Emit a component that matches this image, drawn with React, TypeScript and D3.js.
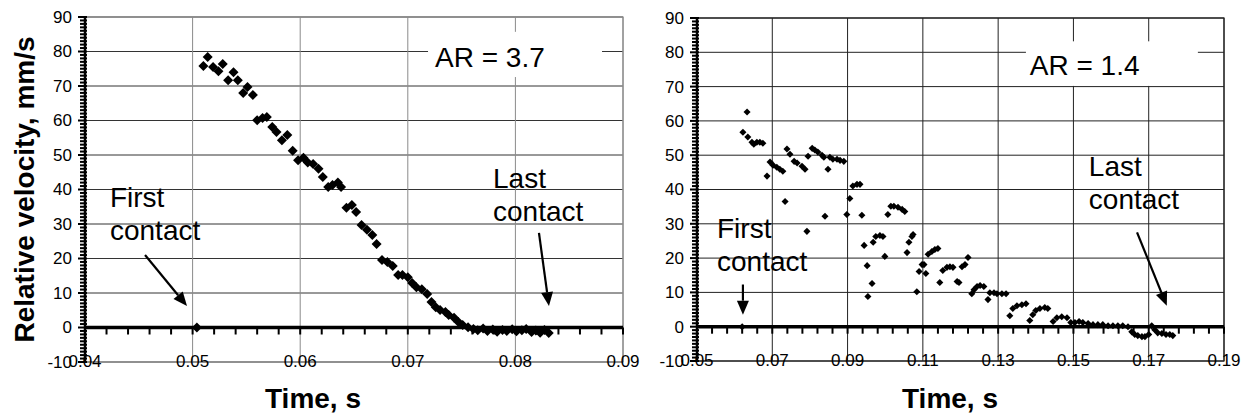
import React from "react";
import * as d3 from "d3";

// ---------- DATA ----------
const LEFT_TIME = [
  0.0504, 0.051, 0.0514, 0.0519, 0.0524, 0.0528, 0.0533, 0.0538, 0.0542, 0.0547,
  0.0551, 0.0556, 0.056, 0.0565, 0.0569, 0.0574, 0.0578, 0.0583, 0.0588, 0.0593,
  0.0598, 0.0603, 0.0607, 0.0612, 0.0617, 0.0621, 0.0626, 0.063, 0.0635, 0.0638,
  0.0643, 0.0648, 0.0652, 0.0657, 0.0662, 0.0667, 0.0671, 0.0676, 0.0681, 0.0686,
  0.0691, 0.0695, 0.07, 0.0704, 0.0708, 0.0713, 0.0718, 0.0722, 0.0726, 0.073,
  0.0735, 0.0738, 0.0743, 0.0747, 0.0751, 0.0756, 0.0761, 0.0765, 0.077, 0.0774,
  0.0779, 0.0783, 0.0788, 0.0792, 0.0797, 0.0801, 0.0806, 0.081, 0.0815, 0.0819,
  0.0823, 0.0827, 0.0831,
];
const LEFT_VEL = [
  0, 75.8, 78.4, 75.5, 74.3, 76.4, 71.7, 74.0, 71.7, 68.0,
  69.7, 67.4, 60.1, 60.7, 61.0, 58.1, 56.7, 54.3, 55.8, 51.2,
  48.5, 49.2, 47.8, 47.4, 46.0, 43.6, 40.7, 41.3, 42.0, 40.7,
  34.7, 35.5, 33.5, 29.7, 28.3, 26.8, 24.2, 19.6, 19.0, 17.8,
  15.2, 15.2, 14.6, 12.9, 11.7, 11.1, 9.7, 7.4, 5.9, 5.1,
  4.5, 3.6, 2.8, 1.6, 0.7, 0.1, -0.4, -0.8, -0.3, -1.0,
  -0.6, -1.2, -0.7, -1.0, -0.5, -1.1, -0.8, -0.4, -1.3, -0.9,
  -1.5, -0.7, -1.6,
];

const RIGHT_TIME = [
  0.062, 0.0622, 0.0633, 0.0635, 0.0646, 0.0651, 0.0659, 0.0667, 0.0675, 0.0686,
  0.0694, 0.0702, 0.0712, 0.072, 0.0728, 0.0734, 0.0739, 0.0747, 0.0758, 0.0766,
  0.0779, 0.0787, 0.0792, 0.0795, 0.0806, 0.0813, 0.0821, 0.0832, 0.0837, 0.084,
  0.0848, 0.0853, 0.0861, 0.0872, 0.088, 0.089, 0.0898, 0.0906, 0.0914, 0.0925,
  0.0933, 0.0938, 0.0944, 0.0952, 0.0954, 0.0965, 0.0968, 0.0975, 0.0986, 0.0994,
  0.0999, 0.1007, 0.1015, 0.1023, 0.1034, 0.1045, 0.1052, 0.1058, 0.1063, 0.1071,
  0.1074, 0.1084, 0.109, 0.1098, 0.1103, 0.1108, 0.1114, 0.1124, 0.1132, 0.114,
  0.1145, 0.1153, 0.1164, 0.1172, 0.118, 0.1191, 0.1196, 0.1204, 0.1212, 0.122,
  0.123, 0.1236, 0.1244, 0.1252, 0.1262, 0.1273, 0.1278, 0.1289, 0.1297, 0.131,
  0.1321, 0.1331, 0.1339, 0.135, 0.1363, 0.1374, 0.1384, 0.1392, 0.14, 0.1411,
  0.1424, 0.1432, 0.1446, 0.1456, 0.1469, 0.1483, 0.1493, 0.1504, 0.1515, 0.1525,
  0.1539, 0.1552, 0.1565, 0.1578, 0.1592, 0.1605, 0.1618, 0.1631, 0.1645, 0.1655,
  0.1663, 0.1671, 0.1682, 0.169, 0.17, 0.1708, 0.1716, 0.1724, 0.1735, 0.1746,
  0.1756, 0.1764,
];
const RIGHT_VEL = [
  0, 56.7, 62.6, 55.3, 53.8, 53.2, 53.8, 53.8, 53.5, 43.9,
  48.0, 47.1, 46.5, 45.9, 45.3, 36.5, 51.8, 50.3, 48.2, 47.7,
  46.8, 45.9, 27.8, 49.7, 52.0, 51.5, 50.9, 50.0, 49.4, 32.2,
  45.9, 49.4, 48.8, 48.8, 48.5, 48.2, 32.7, 37.4, 41.0, 41.5,
  41.5, 32.5, 23.7, 17.8, 8.8, 12.6, 24.6, 26.3, 26.6, 26.3,
  20.5, 32.7, 35.1, 35.1, 34.8, 34.2, 33.6, 21.6, 24.6, 26.3,
  26.9, 10.2, 16.1, 18.1, 18.1, 15.5, 21.1, 21.9, 22.5, 22.8,
  12.9, 16.4, 17.3, 17.5, 17.3, 13.2, 12.9, 17.5, 18.1, 20.2,
  9.6, 10.8, 11.7, 12.0, 11.7, 7.9, 9.9, 9.9, 9.6, 9.6,
  9.6, 3.2, 5.3, 6.1, 6.4, 6.7, 1.8, 3.5, 4.7, 5.3,
  5.6, 5.3, 1.5, 2.6, 2.9, 2.6, 1.2, 1.2, 1.5, 1.2,
  0.9, 0.6, 0.6, 0.6, 0.3, 0.3, 0.3, 0.3, 0.0, -1.5,
  -2.3, -2.6, -2.9, -2.9, -2.3, 0.3, -0.9, -1.8, -2.0, -2.3,
  -2.3, -2.6,
];

const Y_TICKS = [-10, 0, 10, 20, 30, 40, 50, 60, 70, 80, 90];
const LEFT_X_TICKS = [0.04, 0.05, 0.06, 0.07, 0.08, 0.09];
const RIGHT_X_TICKS = [0.05, 0.07, 0.09, 0.11, 0.13, 0.15, 0.17, 0.19];

const Y_TITLE = "Relative velocity, mm/s";
const X_TITLE = "Time, s";
const LEFT_AR = "AR = 3.7";
const RIGHT_AR = "AR = 1.4";

// annotations in data units: [x, y]
const LEFT_FIRST_TEXT: [number, number] = [0.04232, 34.9];
const LEFT_FIRST_ARROW = [[0.04558, 21.0], [0.04948, 6.2]];
const LEFT_LAST_TEXT: [number, number] = [0.07792, 40.4];
const LEFT_LAST_ARROW = [[0.08219, 27.4], [0.08312, 6.2]];
const LEFT_AR_POS: [number, number] = [0.07253, 75.5];
const LEFT_AR_BOX = [[0.07188, 85.7], [0.08805, 72.6]];

const RIGHT_FIRST_TEXT: [number, number] = [0.05531, 26.0];
const RIGHT_FIRST_ARROW = [[0.0622, 12.3], [0.0622, 3.5]];
const RIGHT_LAST_TEXT: [number, number] = [0.1541, 43.9];
const RIGHT_LAST_ARROW = [[0.1669, 27.5], [0.1748, 6.1]];
const RIGHT_AR_POS: [number, number] = [0.1384, 73.4];
const RIGHT_AR_BOX = [[0.13738, 83.2], [0.18306, 70.2]];

const FONT = "'Liberation Sans', Arial, Helvetica, sans-serif";

type PanelProps = {
  time: number[];
  vel: number[];
  xTicks: number[];
  minorX: number;
  left: number;
  right: number;
  top: number;
  bottom: number;
  markerArea: number;
  vGridColor: string;
  hGridColor: string;
  borderColor: string;
  showYTitle: boolean;
  titleX: number;
  firstText: [number, number];
  firstArrow: number[][];
  lastText: [number, number];
  lastArrow: number[][];
  arPos: [number, number];
  arBox: number[][];
  arText: string;
};

function Arrow({ x1, y1, x2, y2 }: { x1: number; y1: number; x2: number; y2: number }) {
  const ang = Math.atan2(y2 - y1, x2 - x1);
  const len = 14;
  const half = 6;
  const bx = x2 - len * Math.cos(ang);
  const by = y2 - len * Math.sin(ang);
  const px = -Math.sin(ang) * half;
  const py = Math.cos(ang) * half;
  return (
    <g>
      <line x1={x1} y1={y1} x2={bx} y2={by} stroke="#000" strokeWidth={2.2} />
      <polygon points={`${x2},${y2} ${bx + px},${by + py} ${bx - px},${by - py}`} fill="#000" />
    </g>
  );
}

function Panel(p: PanelProps) {
  const xDom = [p.xTicks[0], p.xTicks[p.xTicks.length - 1]];
  const x = d3.scaleLinear().domain(xDom).range([p.left, p.right]);
  const y = d3.scaleLinear().domain([-10, 90]).range([p.bottom, p.top]);
  const y0 = y(0);
  const minorY = d3.range(-10, 90.001, 1);
  const nMinorX = Math.round((xDom[1] - xDom[0]) / p.minorX);
  const minorXs = d3.range(0, nMinorX + 1).map((i) => xDom[0] + i * p.minorX);
  const sym = d3.symbol().type(d3.symbolSquare).size(p.markerArea)();
  const fmt = d3.format(".2f");

  return (
    <g>
      {/* horizontal grid */}
      {Y_TICKS.map((t) => (
        <line key={"h" + t} x1={p.left} x2={p.right} y1={y(t)} y2={y(t)} stroke={p.hGridColor} strokeWidth={1} />
      ))}
      {/* vertical grid */}
      {p.xTicks.map((t) => (
        <line key={"v" + t} x1={x(t)} x2={x(t)} y1={p.top} y2={p.bottom} stroke={p.vGridColor} strokeWidth={1} />
      ))}
      {/* border */}
      <rect x={p.left} y={p.top} width={p.right - p.left} height={p.bottom - p.top} fill="none" stroke={p.borderColor} strokeWidth={1.2} />

      {/* AR box */}
      <rect
        x={x(p.arBox[0][0])}
        y={y(p.arBox[0][1])}
        width={x(p.arBox[1][0]) - x(p.arBox[0][0])}
        height={y(p.arBox[1][1]) - y(p.arBox[0][1])}
        fill="#fff"
      />
      <text x={x(p.arPos[0])} y={y(p.arPos[1])} fontSize={28} fontFamily={FONT} fill="#000">
        {p.arText}
      </text>

      {/* y axis */}
      <line x1={p.left} x2={p.left} y1={p.top} y2={p.bottom} stroke="#000" strokeWidth={2.5} />
      {minorY.map((t) => (
        <line
          key={"my" + t}
          x1={p.left - (t % 10 === 0 ? 7 : 5)}
          x2={p.left + 2}
          y1={y(t)}
          y2={y(t)}
          stroke="#000"
          strokeWidth={2}
        />
      ))}
      {Y_TICKS.map((t) => (
        <text
          key={"yl" + t}
          x={p.left - 13}
          y={y(t)}
          dy="0.35em"
          textAnchor="end"
          fontSize={17}
          fontFamily={FONT}
          fill="#000"
        >
          {t}
        </text>
      ))}

      {/* x axis at zero */}
      <line x1={p.left} x2={p.right} y1={y0} y2={y0} stroke="#000" strokeWidth={3.5} />
      {minorXs.map((t, i) => (
        <line key={"mx" + i} x1={x(t)} x2={x(t)} y1={y0} y2={y0 + 7} stroke="#000" strokeWidth={2} />
      ))}
      {p.xTicks.map((t) => (
        <text
          key={"xl" + t}
          x={x(t)}
          y={p.bottom + 5}
          textAnchor="middle"
          fontSize={17}
          fontFamily={FONT}
          fill="#000"
        >
          {fmt(t)}
        </text>
      ))}

      {/* data */}
      {p.time.map((t, i) => (
        <path
          key={"pt" + i}
          d={sym || ""}
          transform={`translate(${x(t)},${y(p.vel[i])}) rotate(45)`}
          fill="#000"
        />
      ))}

      {/* annotations */}
      <text fontSize={28} fontFamily={FONT} fill="#000">
        <tspan x={x(p.firstText[0])} y={y(p.firstText[1])}>First</tspan>
        <tspan x={x(p.firstText[0])} dy={33}>contact</tspan>
      </text>
      <Arrow x1={x(p.firstArrow[0][0])} y1={y(p.firstArrow[0][1])} x2={x(p.firstArrow[1][0])} y2={y(p.firstArrow[1][1])} />
      <text fontSize={28} fontFamily={FONT} fill="#000">
        <tspan x={x(p.lastText[0])} y={y(p.lastText[1])}>Last</tspan>
        <tspan x={x(p.lastText[0])} dy={33}>contact</tspan>
      </text>
      <Arrow x1={x(p.lastArrow[0][0])} y1={y(p.lastArrow[0][1])} x2={x(p.lastArrow[1][0])} y2={y(p.lastArrow[1][1])} />

      {/* titles */}
      <text
        x={p.titleX}
        y={408}
        textAnchor="middle"
        fontSize={28}
        fontWeight="bold"
        fontFamily={FONT}
        fill="#000"
      >
        {X_TITLE}
      </text>
      {p.showYTitle && (
        <text
          transform={`translate(34,${(p.top + p.bottom) / 2}) rotate(-90)`}
          textAnchor="middle"
          fontSize={28}
          fontWeight="bold"
          fontFamily={FONT}
          fill="#000"
        >
          {Y_TITLE}
        </text>
      )}
    </g>
  );
}

export default function App() {
  return (
    <svg
      width={1248}
      height={418}
      style={{ position: "absolute", left: 0, top: 0, background: "#fff" }}
    >
      <rect x={0} y={0} width={1248} height={418} fill="#fff" />
      <Panel
        time={LEFT_TIME}
        vel={LEFT_VEL}
        xTicks={LEFT_X_TICKS}
        minorX={0.002}
        left={85}
        right={623}
        top={17}
        bottom={362}
        markerArea={50}
        vGridColor="#8a8a8a"
        hGridColor="#333"
        borderColor="#8a8a8a"
        showYTitle={true}
        titleX={313}
        firstText={LEFT_FIRST_TEXT}
        firstArrow={LEFT_FIRST_ARROW}
        lastText={LEFT_LAST_TEXT}
        lastArrow={LEFT_LAST_ARROW}
        arPos={LEFT_AR_POS}
        arBox={LEFT_AR_BOX}
        arText={LEFT_AR}
      />
      <Panel
        time={RIGHT_TIME}
        vel={RIGHT_VEL}
        xTicks={RIGHT_X_TICKS}
        minorX={0.004}
        left={697}
        right={1224}
        top={18}
        bottom={361}
        markerArea={25}
        vGridColor="#222"
        hGridColor="#222"
        borderColor="#222"
        showYTitle={false}
        titleX={950}
        firstText={RIGHT_FIRST_TEXT}
        firstArrow={RIGHT_FIRST_ARROW}
        lastText={RIGHT_LAST_TEXT}
        lastArrow={RIGHT_LAST_ARROW}
        arPos={RIGHT_AR_POS}
        arBox={RIGHT_AR_BOX}
        arText={RIGHT_AR}
      />
    </svg>
  );
}
